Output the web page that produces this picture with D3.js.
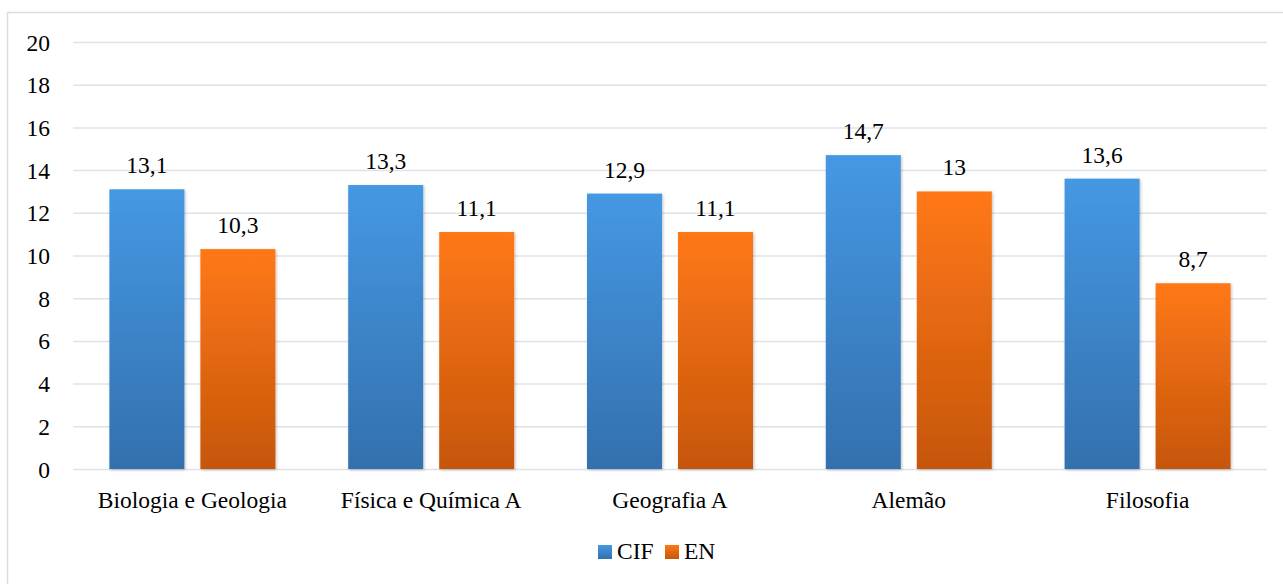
<!DOCTYPE html>
<html><head><meta charset="utf-8">
<script src="https://cdn.jsdelivr.net/npm/d3@7"></script>
<style>body{margin:0;background:#fff}svg{display:block}</style>
</head><body>
<svg id="c" width="1283" height="584"></svg>
<script>
const categories = ["Biologia e Geologia","Física e Química A","Geografia A","Alemão","Filosofia"];
const seriesNames = ["CIF","EN"];
const cifValues = [13.1,13.3,12.9,14.7,13.6];
const enValues = [10.3,11.1,11.1,13,8.7];
const yTicks = [0,2,4,6,8,10,12,14,16,18,20];

const FONT = "Liberation Serif";
const FS = 23.5;
const svg = d3.select("#c");
const W=1283,H=584;
const m={l:73,r:16};
const defs = svg.append("defs");
function grad(id,top,bot){const g=defs.append("linearGradient").attr("id",id).attr("x1",0).attr("y1",0).attr("x2",0).attr("y2",1);
 g.append("stop").attr("offset","0%").attr("stop-color",top);g.append("stop").attr("offset","100%").attr("stop-color",bot);}
grad("gb","#4598E3","#3370AE");
grad("go","#FF7814","#C6560F");
const f=defs.append("filter").attr("id","sh").attr("x","-10%").attr("y","-10%").attr("width","130%").attr("height","130%");
f.append("feDropShadow").attr("dx",1).attr("dy",1).attr("stdDeviation",1.5).attr("flood-color","#000").attr("flood-opacity",0.25);

svg.append("rect").attr("x",7.5).attr("y",12.5).attr("width",W).attr("height",H).attr("fill","#fff").attr("stroke","#d9dde3").attr("stroke-width",1.5);

const x = d3.scaleBand().domain(categories).range([m.l,W-m.r]);
const y = d3.scaleLinear().domain([0,20]).range([469,42]);
const x1 = d3.scaleBand().domain(seriesNames).range([0,166]);

const ya = svg.append("g").attr("transform",`translate(${m.l},0)`).call(d3.axisLeft(y).tickValues(yTicks).tickSize(-(W-m.r-m.l)).tickPadding(23));
ya.select(".domain").remove();
ya.attr("font-family",FONT);
ya.selectAll("line").attr("stroke","#dfe3e8").attr("stroke-width",1.5);
ya.selectAll("text").attr("font-size",FS).attr("font-family",FONT).attr("fill","#000").attr("dy","0.34em");

const xa = svg.append("g").attr("transform",`translate(0,469)`).call(d3.axisBottom(x).tickSize(0).tickPadding(0));
xa.select(".domain").remove();
xa.attr("font-family",FONT);
xa.selectAll("text").attr("font-size",FS).attr("font-family",FONT).attr("fill","#000").attr("dy",null).attr("y",39);

const data = categories.map((c,i)=>({c,vals:[{s:"CIF",v:cifValues[i]},{s:"EN",v:enValues[i]}]}));
const fmt = v=>String(v).replace(".",",");
const off = s=>s==="EN"?91:0;
const g = svg.selectAll(".cat").data(data).enter().append("g").attr("transform",d=>`translate(${x(d.c)+x.bandwidth()/2-83},0)`);
g.selectAll("rect").data(d=>d.vals).enter().append("rect")
 .attr("x",d=>off(d.s)).attr("width",75)
 .attr("y",d=>y(d.v)).attr("height",d=>469-y(d.v))
 .attr("fill",d=>d.s==="CIF"?"url(#gb)":"url(#go)").attr("filter","url(#sh)");
g.selectAll("text").data(d=>d.vals).enter().append("text")
 .attr("x",d=>off(d.s)+37.5).attr("y",d=>y(d.v)-16)
 .attr("text-anchor","middle").attr("font-size",FS).attr("font-family",FONT).attr("fill","#000").text(d=>fmt(d.v));

const lg = svg.append("g");
const items=[{n:"CIF",f:"url(#gb)",x:598},{n:"EN",f:"url(#go)",x:665}];
items.forEach(it=>{lg.append("rect").attr("x",it.x).attr("y",545).attr("width",14).attr("height",14).attr("fill",it.f);
 lg.append("text").attr("x",it.x+19).attr("y",559).attr("font-size",FS).attr("font-family",FONT).attr("fill","#000").text(it.n);});
</script>
</body></html>
